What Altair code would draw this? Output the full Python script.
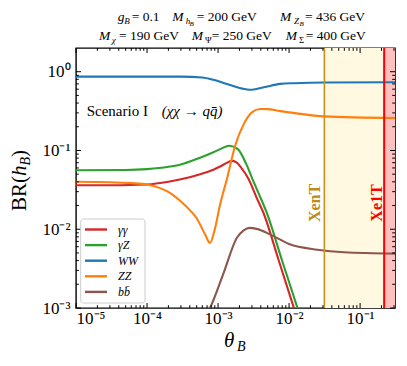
import altair as alt
import pandas as pd

# ---------------- data ----------------
ww_theta = [1e-5, 1e-4, 3e-4, 6e-4, 8.6e-4, 1.2e-3, 1.6e-3, 2.2e-3, 2.8e-3, 4.4e-3, 7.5e-3, 1.2e-2, 3.1e-2, 0.31]
ww_br = [0.867, 0.867, 0.865, 0.845, 0.79, 0.72, 0.665, 0.61, 0.59, 0.635, 0.70, 0.715, 0.73, 0.735]

zz_theta = [1e-5, 3e-5, 6e-5, 1e-4, 1.5e-4, 2.1e-4, 3e-4, 4e-4, 5e-4, 6.6e-4, 7.7e-4, 9e-4, 1.07e-3,
            1.33e-3, 1.74e-3, 2.3e-3, 3.0e-3, 3.9e-3, 5e-3, 7.5e-3, 1.15e-2, 3.1e-2, 0.31]
zz_br = [0.040, 0.0395, 0.0385, 0.037, 0.0335, 0.029, 0.0225, 0.0175, 0.0138, 0.0085, 0.0067, 0.0100, 0.0207,
         0.043, 0.115, 0.216, 0.305, 0.336, 0.335, 0.316, 0.30, 0.271, 0.258]

aa_theta = [1e-5, 3e-5, 1e-4, 2e-4, 3e-4, 5.6e-4, 8.6e-4, 1.07e-3, 1.3e-3, 1.55e-3, 1.8e-3, 2.1e-3,
            2.7e-3, 3.5e-3, 4.35e-3, 7.1e-3, 1.15e-2, 1.32e-2]
aa_br = [0.0361, 0.0362, 0.037, 0.040, 0.043, 0.050, 0.057, 0.0625, 0.069, 0.0738, 0.071, 0.061,
         0.043, 0.025, 0.0162, 0.0041, 0.00105, 0.00071]

az_theta = [1e-5, 5e-5, 1e-4, 2e-4, 2.9e-4, 5.6e-4, 8.6e-4, 1.07e-3, 1.45e-3, 1.9e-3, 2.5e-3, 3.0e-3,
            3.7e-3, 4.85e-3, 7.9e-3, 1.29e-2, 1.48e-2]
az_br = [0.056, 0.0565, 0.058, 0.062, 0.066, 0.081, 0.095, 0.104, 0.115, 0.104, 0.067, 0.045,
         0.029, 0.0162, 0.0041, 0.00105, 0.00071]

bb_theta = [7.0e-4, 7.7e-4, 1.2e-3, 1.84e-3, 2.3e-3, 2.8e-3, 3.5e-3, 5.4e-3, 1.0e-2, 2.5e-2, 6e-2, 0.31]
bb_br = [0.00085, 0.001, 0.0028, 0.0078, 0.0097, 0.0104, 0.0101, 0.0086, 0.0065, 0.0055, 0.0051, 0.0049]

channels = ["γγ", "γZ", "WW", "ZZ", "bb\u0304"]
channel_colors = ["#d62728", "#2ca02c", "#1f77b4", "#ff7f0e", "#8c564b"]

xent_theta = 0.0314
xe1t_theta = 0.218
theta_max = 0.31

x_major = [1e-5, 1e-4, 1e-3, 1e-2, 1e-1]
y_major = [1e-3, 1e-2, 1e-1, 1.0]

# ---------------- build tables ----------------
series = [(aa_theta, aa_br), (az_theta, az_br), (ww_theta, ww_br), (zz_theta, zz_br), (bb_theta, bb_br)]
rows = []
for name, (th, br) in zip(channels, series):
    for t, b in zip(th, br):
        rows.append({"theta": t, "br": b, "channel": name})
curves = pd.DataFrame(rows)

x_minor = [m * 10.0 ** k for k in range(-5, 0) for m in range(2, 10) if m * 10.0 ** k <= theta_max]
y_minor = [m * 10.0 ** k for k in range(-3, 0) for m in range(2, 10)]

W, H = 319, 260
FONT = "Liberation Serif"

xs = alt.Scale(type="log", domain=[1e-5, theta_max], nice=False)
ys = alt.Scale(type="log", domain=[1e-3, 2.0], nice=False)

sup = {-5: "10⁻⁵", -4: "10⁻⁴", -3: "10⁻³", -2: "10⁻²", -1: "10⁻¹", 0: "10⁰"}
e = "round(log(datum.value)/LN10)"
label_expr = " : ".join([f"{e} == {k} ? '{v}'" for k, v in sup.items()]) + " : ''"

X_AX = alt.Axis(values=x_major, labelExpr=label_expr, ticks=False, domain=False, grid=False,
                title=None, labelFont=FONT, labelFontSize=17, labelColor="black", labelPadding=2)
Y_AX = alt.Axis(values=y_major, labelExpr=label_expr, ticks=False, domain=False, grid=False,
                title=None, labelFont=FONT, labelFontSize=17, labelColor="black", labelPadding=6)

# shaded exclusion bands
bands = pd.DataFrame({"x1": [xent_theta, xe1t_theta], "x2": [theta_max, theta_max],
                      "c": ["#fff9e2", "#ffc0c0"]})
band_layer = alt.Chart(bands).mark_rect().encode(
    x=alt.X("x1:Q", scale=xs, axis=X_AX), x2="x2:Q",
    y=alt.value(0), y2=alt.value(H),
    color=alt.Color("c:N", scale=None))

lines = alt.Chart(curves).mark_line(strokeWidth=2.1, clip=True, interpolate="monotone").encode(
    x=alt.X("theta:Q", scale=xs, axis=X_AX),
    y=alt.Y("br:Q", scale=ys, axis=Y_AX),
    color=alt.Color("channel:N", sort=channels,
                    scale=alt.Scale(domain=channels, range=channel_colors), legend=None),
    detail="channel:N")

vlines = pd.DataFrame({"x": [xent_theta, xe1t_theta], "c": ["#c8901c", "#ff0000"], "w": [1.6, 2.0]})
vline_layer = alt.Chart(vlines).mark_rule().encode(
    x=alt.X("x:Q", scale=xs, axis=X_AX), y=alt.value(0), y2=alt.value(H),
    color=alt.Color("c:N", scale=None), strokeWidth=alt.StrokeWidth("w:Q", scale=None))


def xticks(vals, length):
    d = pd.DataFrame({"v": vals})
    bot = alt.Chart(d).mark_rule(color="black", strokeWidth=1).encode(
        x=alt.X("v:Q", scale=xs, axis=X_AX), y=alt.value(H), y2=alt.value(H - length))
    top = alt.Chart(d).mark_rule(color="black", strokeWidth=1).encode(
        x=alt.X("v:Q", scale=xs, axis=X_AX), y=alt.value(0), y2=alt.value(length))
    return [bot, top]


def yticks(vals, length):
    d = pd.DataFrame({"v": vals})
    left = alt.Chart(d).mark_rule(color="black", strokeWidth=1).encode(
        y=alt.Y("v:Q", scale=ys, axis=Y_AX), x=alt.value(0), x2=alt.value(length))
    right = alt.Chart(d).mark_rule(color="black", strokeWidth=1).encode(
        y=alt.Y("v:Q", scale=ys, axis=Y_AX), x=alt.value(W), x2=alt.value(W - length))
    return [left, right]


tick_layers = xticks(x_major, 5) + xticks(x_minor, 2.8) + yticks(y_major, 5) + yticks(y_minor, 2.8)


# ---------------- text annotations & legend (layout) ----------------
def piece(text, x, y, size, style="normal", angle=0, color="black", align="left",
          baseline="alphabetic", weight="normal"):
    return alt.Chart(pd.DataFrame({"t": [text]})).mark_text(
        font=FONT, fontSize=size, fontStyle=style, fontWeight=weight, angle=angle, color=color,
        align=align, baseline=baseline).encode(text="t:N", x=alt.value(x), y=alt.value(y))


texts = [
    # title line 1
    piece("g", 41.7, -27, 13.5, "italic"), piece("B", 48.3, -24, 9, "italic"),
    piece("= 0.1", 55.7, -27, 13.5),
    piece("M", 96.3, -27, 13.5, "italic"), piece("h", 109.7, -24, 9, "italic"),
    piece("B", 113.5, -22, 7, "italic"), piece("= 200 GeV", 120.7, -27, 13.5),
    piece("M", 204, -27, 13.5, "italic"), piece("Z", 218, -24, 9, "italic"),
    piece("B", 223.5, -22, 7, "italic"), piece("= 436 GeV", 229, -27, 13.5),
    # title line 2
    piece("M", 23, -8, 13.5, "italic"), piece("χ", 35.7, -5, 9, "italic"),
    piece("= 190 GeV", 43, -8, 13.5),
    piece("M", 115.7, -8, 13.5, "italic"), piece("Ψ", 129, -5, 9),
    piece("= 250 GeV", 135.7, -8, 13.5),
    piece("M", 209.7, -8, 13.5, "italic"), piece("Σ", 223, -5, 9),
    piece("= 400 GeV", 229.7, -8, 13.5),
    # scenario label
    piece("Scenario I", 10.7, 67.5, 15), piece("(χχ → qq\u0304)", 85.7, 67.5, 15, "italic"),
    # axis titles
    piece("θ", 148, 299, 21, "italic"), piece("B", 161, 303, 14, "italic"),
    piece("BR(", -50, 163, 21, angle=270), piece("h", -50, 128, 21, "italic", angle=270),
    piece("B", -46, 117.5, 14, "italic", angle=270), piece(")", -50, 109, 21, angle=270),
    # exclusion labels
    piece("XenT", 239, 155, 16, angle=270, color="#c08a18", align="center", baseline="middle",
          weight="bold"),
    piece("Xe1T", 300.7, 155, 16, angle=270, color="#ff0000", align="center", baseline="middle",
          weight="bold"),
]

legend_box = alt.Chart(pd.DataFrame({"a": [0]})).mark_rect(
    fill="white", stroke="#cccccc", strokeWidth=1, cornerRadius=3).encode(
    x=alt.value(4.7), x2=alt.value(69), y=alt.value(171), y2=alt.value(255))
legend_items = []
for i, (name, col) in enumerate(zip(channels, channel_colors)):
    yy = 181.5 + 15.6 * i
    legend_items.append(alt.Chart(pd.DataFrame({"a": [0]})).mark_rule(color=col, strokeWidth=2.4).encode(
        x=alt.value(9), x2=alt.value(31), y=alt.value(yy)))
    legend_items.append(piece(name, 42, yy, 12, "italic", baseline="middle"))

chart = alt.layer(band_layer, lines, vline_layer, *tick_layers, *texts, legend_box, *legend_items).properties(
    width=W, height=H,
    padding={"left": 68, "top": 40, "right": 4, "bottom": 50},
    autosize=alt.AutoSizeParams(type="none"),
).configure_view(stroke="black", strokeWidth=1.4)

chart.save("out.html", embed_options={"renderer": "svg", "actions": False})
